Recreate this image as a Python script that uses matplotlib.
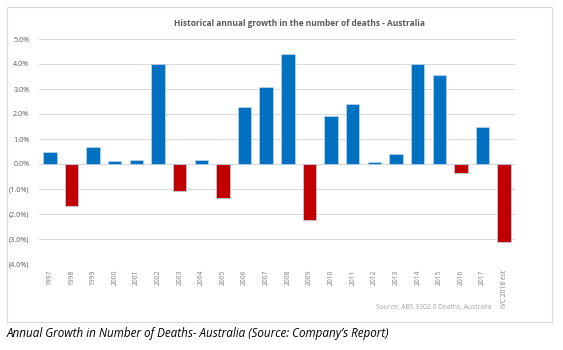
import numpy as np
import matplotlib.pyplot as plt
from matplotlib.patches import Rectangle
from matplotlib.ticker import FuncFormatter

# annual growth in number of deaths (%)
years = ['1997', '1998', '1999', '2000', '2001', '2002', '2003', '2004', '2005',
         '2006', '2007', '2008', '2009', '2010', '2011', '2012', '2013', '2014',
         '2015', '2016', '2017', 'IVC 2018 est']
growth = [0.49, -1.68, 0.69, 0.12, 0.17, 4.01, -1.07, 0.15, -1.37,
          2.29, 3.07, 4.40, -2.24, 1.92, 2.40, 0.09, 0.39, 3.99,
          3.55, -0.37, 1.49, -3.13]

blue = '#0070C0'
red = '#C00000'
grey = '#595959'

plt.rcParams['font.family'] = ['Open Sans', 'DejaVu Sans']

fig = plt.figure(figsize=(5.63, 3.5), dpi=100)

# outer chart frame
fig.patches.append(Rectangle((7 / 563, 1 - 322 / 350), 545 / 563, 315 / 350,
                             transform=fig.transFigure, fill=False,
                             edgecolor='#D9D9D9', linewidth=0.8))

ax = fig.add_axes([39 / 563, 1 - 264 / 350, 476 / 563, 225 / 350])

x = np.arange(len(years))
colors = [blue if v >= 0 else red for v in growth]
ax.bar(x, growth, width=0.62, color=colors, edgecolor='#BDD7EE', linewidth=0.5, zorder=3)

ax.set_xlim(-0.5, len(years) - 0.5)
ax.set_ylim(-4, 5)
ax.set_yticks(np.arange(-4, 6, 1))


def pct(v, pos):
    if v < 0:
        return '(%.1f%%)' % abs(v)
    return '%.1f%%' % v


ax.yaxis.set_major_formatter(FuncFormatter(pct))
ax.grid(axis='y', color='#D9D9D9', linewidth=0.7, zorder=0)
for s in ax.spines.values():
    s.set_visible(False)
ax.tick_params(axis='both', length=0, colors=grey)
ax.tick_params(axis='y', labelsize=5.2, pad=7)
ax.set_xticks(x)
ax.set_xticklabels(years, rotation=90, fontsize=4.8, color='#7F7F7F')
ax.tick_params(axis='x', pad=4)

fig.text(299 / 563, 1 - 23 / 350, 'Historical annual growth in the number of deaths - Australia',
         ha='center', va='center', fontsize=6, fontweight='bold', color=grey)
fig.text(491 / 563, 1 - 308 / 350, 'Source: ABS 3302.0 Deaths, Australia',
         ha='right', va='center', fontsize=4.9, color='#A6A6A6')
fig.text(7 / 563, 1 - 334 / 350,
         'Annual Growth in Number of Deaths- Australia (Source: Company\u2019s Report)',
         ha='left', va='center', fontsize=8.4, style='italic', color='black')

fig.savefig('out.png', dpi=100)
